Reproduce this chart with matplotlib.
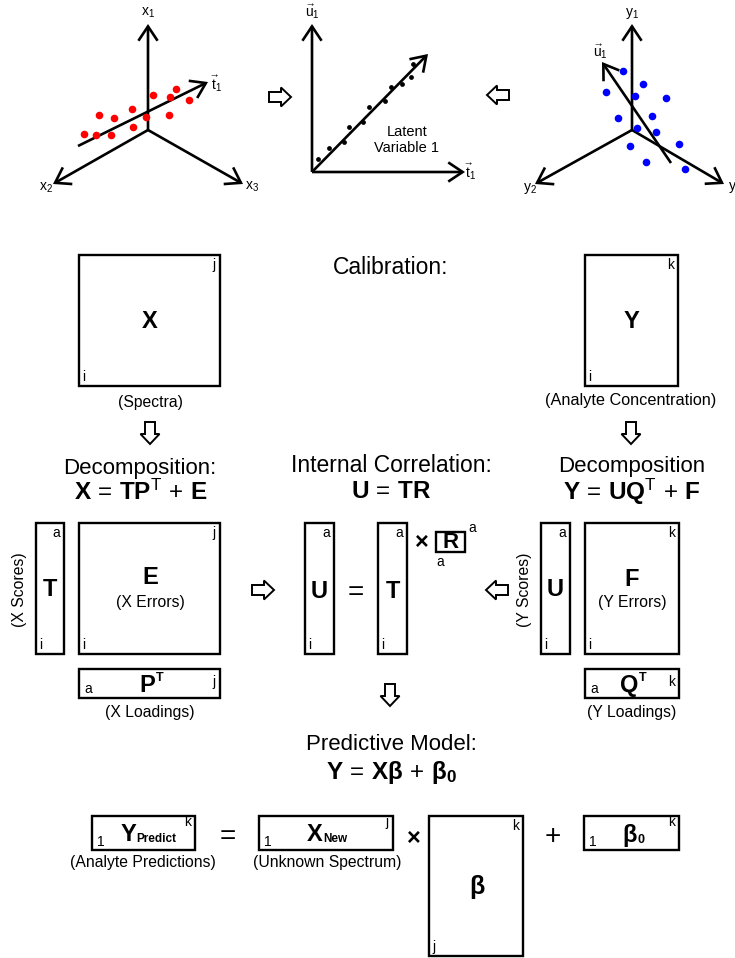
import numpy as np
import matplotlib
matplotlib.use("Agg")
import matplotlib.pyplot as plt
from matplotlib.patches import Rectangle, Polygon, FancyArrowPatch

plt.rcParams['font.family'] = ['Liberation Sans', 'DejaVu Sans']
plt.rcParams['mathtext.fontset'] = 'custom'
plt.rcParams['mathtext.rm'] = 'Liberation Sans'
plt.rcParams['mathtext.it'] = 'Liberation Sans:italic'
plt.rcParams['mathtext.bf'] = 'Liberation Sans:bold'
plt.rcParams['mathtext.sf'] = 'Liberation Sans'

# scatter points of the three latent-variable sketches (pixel coords)
red_x = [84, 96, 111, 99, 114, 132, 133, 146, 153, 170, 176, 169, 189]
red_y = [134, 135, 135, 115, 118, 109, 127, 117, 95, 97, 89, 115, 100]
blk_x = [318, 329, 344, 349, 363, 369, 385, 391, 402, 411, 413]
blk_y = [159, 148, 142, 127, 122, 107, 101, 87, 84, 77, 64]
blu_x = [623, 606, 643, 635, 666, 618, 652, 637, 656, 630, 679, 646, 685]
blu_y = [71, 92, 84, 96, 98, 118, 116, 128, 132, 146, 144, 162, 169]

fig = plt.figure(figsize=(7.35, 9.58), dpi=100)
ax = fig.add_axes([0, 0, 1, 1])
ax.set_xlim(0, 735)
ax.set_ylim(958, 0)
ax.axis("off")

LW = 1.7
HEAD = 16      # section headings
EQ = 17.5      # bold equations
BIG = 17       # bold letters inside boxes
CAP = 11.3     # captions in brackets
SM = 10        # index letters in corners


def arrow(x0, y0, x1, y1, lw=1.9):
    ax.add_patch(FancyArrowPatch((x0, y0), (x1, y1),
                                 arrowstyle="->,head_length=0.45,head_width=0.3",
                                 mutation_scale=23, lw=lw, color="black",
                                 shrinkA=0, shrinkB=0, capstyle="butt",
                                 joinstyle="miter"))


def hollow(cx, cy, d):
    # block arrow, d = angle in degrees (0 right, 90 down, 180 left)
    pts = np.array([[-11, -5], [1, -5], [1, -9.5], [11, 0],
                    [1, 9.5], [1, 5], [-11, 5]])
    a = np.deg2rad(d)
    rot = np.array([[np.cos(a), -np.sin(a)], [np.sin(a), np.cos(a)]])
    pts = pts @ rot.T + [cx, cy]
    ax.add_patch(Polygon(pts, closed=True, fc="white", ec="black", lw=1.4))


def box(x0, y0, x1, y1):
    ax.add_patch(Rectangle((x0, y0), x1 - x0, y1 - y0, fill=False,
                           lw=LW, ec="black", joinstyle="miter"))


def t(x, y, s, size=11, bold=False, **kw):
    kw.setdefault("ha", "center")
    kw.setdefault("va", "center")
    ax.text(x, y, s, fontsize=size, fontweight="bold" if bold else "normal", **kw)


def corner(x0, y0, x1, y1, tr=None, bl=None, size=SM):
    if tr:
        t(x1 - 4, y0 + 3, tr, size, ha="right", va="top")
    if bl:
        t(x0 + 3, y1 - 2, bl, size, ha="left", va="bottom")


def sub_label(x_main, y_base, main, sub, sub_size=8.5, sup=False):
    # big bold letter with a small bold index drawn as separate texts
    t(x_main, y_base, main, BIG, True, ha="right", va="baseline")
    if sup:
        t(x_main + 1, y_base - 11, sub, sub_size, True, ha="left", va="baseline")
    else:
        t(x_main + 0.5, y_base + 1, sub, sub_size, True, ha="left", va="baseline")


# ---- top: X space ----
arrow(148, 130, 148, 24)
arrow(148, 130, 53, 184)
arrow(148, 130, 243, 184)
ax.scatter(red_x, red_y, s=30, color="#ff0000", zorder=3, lw=0)
arrow(78, 146, 208, 82)
t(148, 13, r"$\mathrm{x}_1$", 10)
t(46, 188, r"$\mathrm{x}_2$", 10)
t(252, 187, r"$\mathrm{x}_3$", 10)
t(216, 84, r"$\vec{\mathrm{t}}_1$", 10)

# ---- top: latent variable ----
arrow(312, 172, 312, 24)
arrow(312, 172, 465, 172)
arrow(312, 172, 428, 54)
ax.scatter(blk_x, blk_y, s=12, color="black", zorder=3, lw=0)
t(312, 12, r"$\vec{\mathrm{u}}_1$", 10)
t(470, 172, r"$\vec{\mathrm{t}}_1$", 10)
t(407, 140, "Latent\nVariable 1", 10.5, linespacing=1.15)
hollow(280, 97, 0)

# ---- top: Y space ----
arrow(632, 130, 632, 24)
arrow(632, 130, 535, 184)
arrow(632, 130, 724, 184)
ax.scatter(blu_x, blu_y, s=30, color="#0000ff", zorder=3, lw=0)
arrow(671, 163, 602, 62)
t(632, 13, r"$\mathrm{y}_1$", 10)
t(530, 188, r"$\mathrm{y}_2$", 10)
t(728, 187, r"$\mathrm{y}_3$", 10, ha="left")
t(600, 52, r"$\vec{\mathrm{u}}_1$", 10)
hollow(498, 95, 180)

# ---- calibration ----
t(391, 267, "Calibration:", 16.5)
box(79, 255, 220, 386)
t(150, 322, "X", BIG, True)
corner(79, 255, 220, 386, "j", "i")
t(150, 403, "(Spectra)", CAP)
hollow(150, 433, 90)

box(585, 255, 678, 386)
t(631, 322, "Y", BIG, True)
corner(585, 255, 678, 386, "k", "i")
t(631, 400, "(Analyte Concentration)", CAP + 0.4)
hollow(631, 433, 90)

# ---- X decomposition ----
t(140, 468, "Decomposition:", HEAD)
t(141, 492, r"$\mathbf{X}\,=\,\mathbf{TP}^{\mathrm{T}}\,+\,\mathbf{E}$", EQ)
box(36, 523, 64, 654)
t(50, 590, "T", BIG, True)
corner(36, 523, 64, 654, "a", "i")
t(20, 590, "(X Scores)", CAP, rotation=90)
box(79, 523, 220, 654)
t(150, 578, "E", BIG, True)
t(150, 602, "(X Errors)", CAP)
corner(79, 523, 220, 654, "j", "i")
box(79, 669, 220, 698)
sub_label(155, 692, "P", "T", 9, sup=True)
t(84, 689, "a", SM, ha="left")
t(216, 682, "j", SM, ha="right")
t(150, 713, "(X Loadings)", CAP)

# ---- internal correlation ----
t(391, 465, "Internal Correlation:", HEAD + 0.5)
t(391, 492, r"$\mathbf{U}\,=\,\mathbf{TR}$", EQ)
box(305, 523, 334, 654)
t(319.5, 592, "U", BIG, True)
corner(305, 523, 334, 654, "a", "i")
t(356, 593, "=", 20)
box(378, 523, 407, 654)
t(392.5, 592, "T", BIG, True)
corner(378, 523, 407, 654, "a", "i")
t(422, 542, "×", 17, True)
box(436, 532, 465, 552)
t(450.5, 542, "R", 16, True)
t(468, 528, "a", SM, ha="left")
t(440, 562, "a", SM)
hollow(263, 590, 0)
hollow(497, 590, 180)
hollow(390, 695, 90)

# ---- Y decomposition ----
t(632, 466, "Decomposition", HEAD)
t(632, 492, r"$\mathbf{Y}\,=\,\mathbf{UQ}^{\mathrm{T}}\,+\,\mathbf{F}$", EQ)
box(541, 523, 570, 654)
t(555.5, 590, "U", BIG, True)
corner(541, 523, 570, 654, "a", "i")
t(525, 590, "(Y Scores)", CAP, rotation=90)
box(585, 523, 679, 654)
t(632, 580, "F", BIG, True)
t(632, 602, "(Y Errors)", CAP)
corner(585, 523, 679, 654, "k", "i")
box(585, 669, 679, 698)
sub_label(638, 692, "Q", "T", 9, sup=True)
t(590, 689, "a", SM, ha="left")
t(675, 682, "k", SM, ha="right")
t(632, 713, "(Y Loadings)", CAP)

# ---- predictive model ----
t(391, 745, "Predictive Model:", HEAD)
t(391, 773, r"$\mathbf{Y}\,=\,\mathbf{X\beta}\,+\,\mathbf{\beta}_{\mathbf{0}}$", EQ)

box(92, 816, 195, 850)
sub_label(136, 841, "Y", "Predict", 8.5)
t(97, 842, "1", SM, ha="left")
t(191, 822, "k", SM, ha="right")
t(143, 862, "(Analyte Predictions)", CAP)
t(228, 837, "=", 20)

box(259, 816, 393, 850)
sub_label(323, 841, "X", "New", 8.5)
t(264, 842, "1", SM, ha="left")
t(389, 822, "j", SM, ha="right")
t(327, 862, "(Unknown Spectrum)", CAP)
t(414, 838, "×", 17, True)

box(429, 816, 523, 956)
t(477, 887, r"$\mathbf{\beta}$", 18)
corner(429, 816, 523, 956, "k", "j")
t(553, 837, "+", 20)

box(584, 816, 679, 850)
sub_label(637, 842, "β", "0", 9)
t(589, 842, "1", SM, ha="left")
t(675, 822, "k", SM, ha="right")

fig.savefig("out.png", dpi=100)
